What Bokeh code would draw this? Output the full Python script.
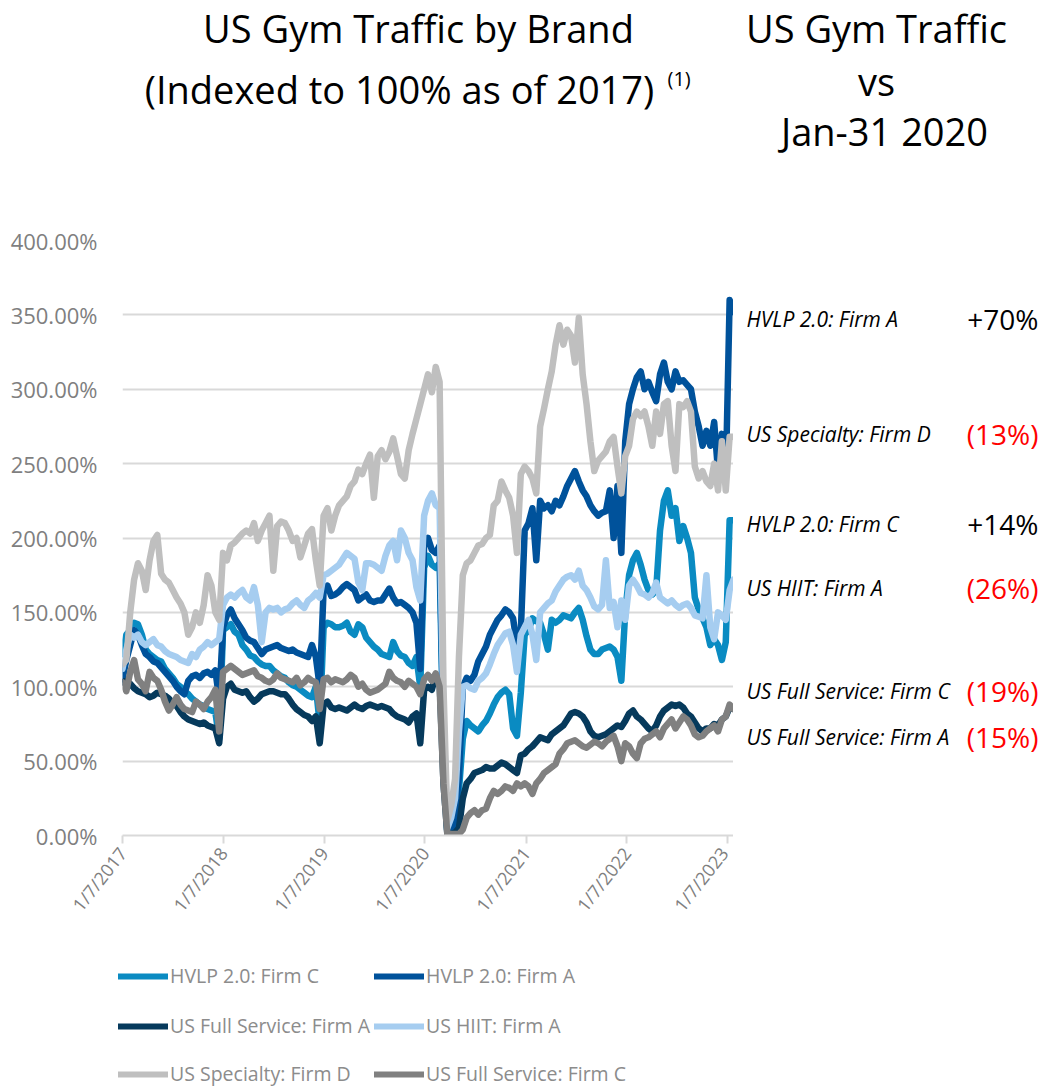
import math
import pandas as pd
from bokeh.plotting import figure
from bokeh.layouts import column, row
from bokeh.models import (Range1d, FixedTicker, PrintfTickFormatter, Label,
                          Legend, LegendItem, ColumnDataSource)
from bokeh.embed import file_html
from bokeh.resources import INLINE

# ---------------- data (bi-weekly readings, % indexed to 2017) ----------------
dates = pd.date_range("2017-01-07", "2023-01-28", freq="14D")   # 159 dates

hvlp_c = [122, 135, 138, 143, 142, 135, 125, 122, 120, 118, 117, 112, 109, 106, 102, 100, 97, 95, 92, 90, 88, 87, 85, 84, 83, 65,
          138, 140, 142, 137, 135, 128, 125, 121, 120, 117, 115, 114, 114, 111, 109, 107, 106, 103, 101, 100, 98, 96, 94, 93, 100, 75,
          140, 143, 142, 140, 140, 141, 143, 137, 135, 142, 140, 133, 130, 127, 125, 122, 121, 120, 130, 124, 121, 120, 116, 114, 120, 100,
          180, 188, 182, 180, 183, 60, 2, 3, 8, 30, 65, 77, 74, 72, 70, 74, 77, 82, 88, 93, 96, 98, 95, 72, 67, 96,
          135, 138, 146, 144, 143, 135, 125, 145, 143, 145, 148, 147, 146, 150, 153, 145, 134, 125, 122, 122, 125, 126, 127, 125, 120, 104,
          150, 175, 185, 190, 182, 172, 165, 162, 165, 205, 225, 232, 215, 220, 198, 208, 200, 190, 160, 152, 146, 140, 128, 132, 128, 118, 130, 212, 212]

hvlp_a = [105, 118, 128, 138, 135, 128, 122, 120, 117, 116, 113, 110, 107, 104, 100, 97, 95, 104, 107, 108, 106, 109, 110, 108, 111, 92,
          140, 148, 152, 146, 142, 138, 133, 131, 130, 126, 122, 125, 126, 127, 128, 126, 125, 124, 125, 123, 122, 121, 120, 128, 120, 100,
          165, 168, 161, 162, 164, 167, 169, 167, 165, 158, 160, 162, 158, 157, 158, 158, 162, 166, 160, 156, 157, 155, 153, 150, 143, 112,
          195, 200, 192, 190, 195, 70, 2, 3, 10, 40, 100, 106, 104, 108, 117, 122, 127, 135, 140, 145, 148, 152, 150, 146, 128, 137,
          205, 210, 220, 185, 225, 220, 222, 218, 225, 222, 228, 235, 240, 245, 238, 232, 228, 222, 218, 215, 217, 218, 232, 200, 235, 190,
          265, 290, 300, 308, 312, 300, 305, 298, 292, 310, 318, 305, 300, 312, 305, 306, 303, 300, 285, 275, 262, 272, 262, 278, 245, 270, 240, 360, 352]

fs_a = [103, 104, 102, 99, 97, 96, 95, 93, 94, 96, 95, 94, 92, 89, 87, 83, 80, 78, 77, 76, 75, 76, 74, 73, 72, 62,
        92, 100, 102, 98, 97, 96, 97, 93, 90, 92, 95, 96, 97, 97, 96, 95, 95, 92, 88, 85, 83, 81, 80, 77, 80, 62,
        88, 90, 86, 85, 86, 85, 84, 86, 88, 86, 85, 87, 88, 87, 86, 87, 86, 85, 82, 80, 79, 78, 76, 80, 82, 62,
        98, 100, 98, 108, 104, 35, 1, 1, 2, 5, 25, 35, 38, 42, 43, 44, 46, 45, 45, 47, 49, 48, 46, 44, 42, 54,
        55, 58, 60, 63, 66, 65, 64, 68, 70, 72, 74, 78, 82, 83, 82, 80, 76, 70, 67, 66, 67, 68, 70, 72, 74, 73,
        77, 82, 84, 80, 78, 75, 72, 70, 74, 80, 84, 86, 88, 87, 88, 86, 82, 80, 76, 72, 70, 72, 72, 75, 74, 78, 80, 86, 85]

hiit_a = [112, 125, 135, 133, 135, 130, 128, 130, 132, 128, 127, 124, 122, 121, 120, 118, 117, 116, 122, 120, 125, 127, 130, 128, 130, 132,
          155, 160, 162, 160, 163, 165, 160, 158, 167, 155, 130, 150, 153, 152, 153, 150, 152, 153, 156, 158, 155, 153, 158, 160, 163, 160,
          175, 176, 178, 180, 182, 186, 190, 188, 186, 170, 165, 183, 183, 182, 180, 178, 188, 195, 198, 185, 205, 200, 190, 185, 167, 158,
          215, 225, 230, 222, 220, 80, 5, 12, 25, 70, 100, 101, 99, 98, 104, 106, 109, 115, 122, 128, 132, 136, 137, 128, 110, 135,
          140, 145, 135, 118, 150, 153, 156, 158, 164, 168, 172, 174, 175, 172, 178, 168, 165, 160, 154, 152, 155, 185, 153, 157, 140, 158,
          145, 168, 172, 168, 163, 162, 160, 163, 170, 160, 158, 156, 158, 155, 153, 155, 156, 153, 148, 147, 146, 175, 140, 132, 150, 148, 145, 165, 172]

spec_d = [115, 118, 150, 172, 183, 178, 165, 185, 198, 202, 176, 172, 170, 165, 160, 156, 150, 135, 140, 150, 143, 155, 175, 168, 150, 145,
          190, 185, 195, 197, 200, 203, 205, 203, 210, 198, 205, 210, 215, 178, 208, 211, 210, 205, 198, 200, 187, 195, 203, 206, 185, 168,
          215, 220, 205, 215, 222, 225, 228, 235, 238, 246, 243, 250, 256, 227, 255, 259, 253, 258, 267, 255, 243, 240, 259, 270, 280, 290,
          300, 310, 298, 315, 305, 100, 10, 20, 38, 120, 175, 183, 185, 190, 195, 196, 200, 202, 222, 225, 238, 232, 227, 215, 190, 243,
          248, 245, 240, 230, 275, 287, 300, 312, 330, 343, 330, 340, 336, 318, 348, 310, 290, 265, 245, 252, 255, 258, 265, 268, 248, 230,
          255, 262, 280, 285, 282, 285, 275, 262, 285, 270, 290, 292, 262, 245, 290, 288, 292, 285, 248, 240, 245, 238, 235, 250, 232, 265, 232, 268, 268]

fs_c = [103, 97, 110, 118, 105, 102, 97, 110, 106, 104, 98, 90, 84, 88, 93, 88, 85, 84, 83, 90, 88, 85, 90, 93, 98, 70,
        110, 112, 114, 112, 110, 108, 109, 110, 111, 107, 106, 104, 103, 105, 109, 106, 105, 104, 103, 106, 101, 103, 106, 104, 103, 85,
        105, 106, 103, 105, 104, 103, 105, 108, 106, 100, 102, 98, 96, 97, 98, 100, 102, 110, 106, 104, 103, 100, 104, 102, 100, 95,
        105, 108, 104, 109, 100, 35, 1, 1, 1, 1, 4, 12, 15, 17, 14, 17, 18, 25, 30, 28, 30, 33, 32, 30, 35, 33,
        35, 33, 28, 35, 38, 42, 44, 46, 48, 55, 58, 62, 63, 64, 62, 60, 59, 61, 63, 62, 60, 63, 65, 67, 60, 50,
        62, 60, 55, 52, 62, 65, 66, 68, 70, 66, 72, 75, 78, 72, 76, 80, 78, 74, 68, 66, 67, 70, 72, 74, 70, 78, 80, 88, 85]

series_names = ["HVLP 2.0: Firm C", "HVLP 2.0: Firm A", "US Full Service: Firm A",
                "US HIIT: Firm A", "US Specialty: Firm D", "US Full Service: Firm C"]
series_values = [hvlp_c, hvlp_a, fs_a, hiit_a, spec_d, fs_c]
series_colors = ["#0a8bc2", "#00529b", "#063a5c", "#a6cdf0", "#bfbfbf", "#808080"]

tick_dates = ["2017-01-07", "2018-01-07", "2019-01-07", "2020-01-07",
              "2021-01-07", "2022-01-07", "2023-01-07"]
tick_labels = ["1/7/2017", "1/7/2018", "1/7/2019", "1/7/2020",
               "1/7/2021", "1/7/2022", "1/7/2023"]
y_ticks = [0, 50, 100, 150, 200, 250, 300, 350, 400]

ann_labels = ["HVLP 2.0: Firm A", "US Specialty: Firm D", "HVLP 2.0: Firm C",
              "US HIIT: Firm A", "US Full Service: Firm C", "US Full Service: Firm A"]
ann_values = ["+70%", "(13%)", "+14%", "(26%)", "(19%)", "(15%)"]
ann_colors = ["#000000", "#ff0000", "#000000", "#ff0000", "#ff0000", "#ff0000"]

for v in series_values:
    assert len(v) == len(dates), (len(v), len(dates))

FONT = "Open Sans"
W, H = 1048, 1088
TOP_H = 200          # title strip height
MAIN_W = 733         # main chart width (frame right edge)
MAIN_H = 745         # main chart height (page y 200..945)
LEG_H = H - TOP_H - MAIN_H
B_TOP, B_BOT = 40, 110   # main chart borders -> frame at page y 240..835


def text_fig(width, height, x0, y0, y1, btop=0, bbot=0):
    """Blank figure whose frame data coordinates equal page pixel coordinates."""
    f = figure(width=width, height=height, output_backend="svg", toolbar_location=None,
               x_range=Range1d(x0, x0 + width), y_range=Range1d(y1, y0),
               x_axis_type=None, y_axis_type=None,
               min_border=0, min_border_left=0, min_border_right=0,
               min_border_top=btop, min_border_bottom=bbot)
    f.outline_line_color = None
    f.grid.visible = False
    return f


def add_text(f, text, px, py, size, align="left", color="#000000", style="normal"):
    f.add_layout(Label(x=px, y=py, text=text, text_font=FONT, text_font_size=f"{size}px",
                       text_align=align, text_baseline="middle",
                       text_color=color, text_font_style=style))


# ---------------- title strip ----------------
top = text_fig(W, TOP_H, 0, 0, TOP_H)
add_text(top, "US Gym Traffic by Brand", 418, 27, 38, "center")
add_text(top, "(Indexed to 100% as of 2017)", 399, 88, 38, "center")
add_text(top, "(1)", 667, 78, 20, "left")
add_text(top, "US Gym Traffic", 876, 27, 38, "center")
add_text(top, "vs", 876, 80, 38, "center")
add_text(top, "Jan-31 2020", 884, 130, 38, "center")

# ---------------- main chart ----------------
x_ms = [d.value // 10**6 for d in dates]
tick_ms = [pd.Timestamp(t).value // 10**6 for t in tick_dates]

p = figure(width=MAIN_W, height=MAIN_H, output_backend="svg", toolbar_location=None,
           x_range=Range1d(x_ms[0], x_ms[-1]), y_range=Range1d(0, 400),
           min_border_left=122, min_border_right=0, min_border_top=B_TOP,
           min_border_bottom=B_BOT)
p.outline_line_color = None
p.xgrid.visible = False
p.ygrid.grid_line_color = "#d9d9d9"
p.ygrid.grid_line_width = 2

ya = p.yaxis[0]
ya.ticker = FixedTicker(ticks=y_ticks)
ya.formatter = PrintfTickFormatter(format="%.2f%%")
ya.axis_line_color = None
ya.major_tick_line_color = None
ya.major_tick_in = 0
ya.major_tick_out = 0
ya.minor_tick_line_color = None
ya.major_label_standoff = 25
ya.major_label_text_font = FONT
ya.major_label_text_font_size = "22px"
ya.major_label_text_color = "#7f7f7f"

xa = p.xaxis[0]
xa.ticker = FixedTicker(ticks=tick_ms)
xa.major_label_overrides = {t: l for t, l in zip(tick_ms, tick_labels)}
xa.axis_line_color = "#d9d9d9"
xa.axis_line_width = 2
xa.major_tick_line_color = "#d9d9d9"
xa.major_tick_line_width = 2
xa.major_tick_in = 0
xa.major_tick_out = 8
xa.minor_tick_line_color = None
xa.major_label_orientation = math.radians(52)
xa.major_label_standoff = 6
xa.major_label_text_font = FONT
xa.major_label_text_font_size = "18px"
xa.major_label_text_color = "#7f7f7f"

for name, vals, col in zip(series_names, series_values, series_colors):
    src = ColumnDataSource(dict(x=x_ms, y=vals))
    p.line("x", "y", source=src, line_color=col, line_width=6.5,
           line_join="round", line_cap="round")

# ---------------- right-hand annotations ----------------
right = text_fig(W - MAIN_W, MAIN_H, MAIN_W, TOP_H + B_TOP, TOP_H + MAIN_H - B_BOT,
                 btop=B_TOP, bbot=B_BOT)
ann_y = [318, 433, 523, 587, 690, 736]
for lab, val, col, yy in zip(ann_labels, ann_values, ann_colors, ann_y):
    add_text(right, lab, 746, yy, 21, "left", "#000000", "italic")
    add_text(right, val, 1038, yy, 28, "right", col)

# ---------------- legend strip ----------------
leg_fig = text_fig(W, LEG_H, 0, TOP_H + MAIN_H, H)
leg_renderers = []
for name, vals, col in zip(series_names, series_values, series_colors):
    # same series, lying far outside this strip's range (invisible); gives legend swatches
    src = ColumnDataSource(dict(x=x_ms, y=vals))
    leg_renderers.append(leg_fig.line("x", "y", source=src, line_color=col, line_width=6,
                                      line_cap="round"))
row_centers = [975, 1025, 1073]
for r_i, cy in enumerate(row_centers):
    items = [LegendItem(label=series_names[2 * r_i + c],
                        renderers=[leg_renderers[2 * r_i + c]]) for c in range(2)]
    bottom_from_frame = (H - cy) - 14
    leg = Legend(items=items, orientation="horizontal",
                 location=(118, bottom_from_frame),
                 glyph_width=50, glyph_height=20, label_width=202, label_height=20,
                 label_standoff=2, spacing=2, padding=0, margin=0,
                 border_line_color=None, background_fill_alpha=0,
                 label_text_font=FONT, label_text_font_size="19.5px",
                 label_text_color="#8c8c8c")
    leg_fig.add_layout(leg)

layout = column(top, row(p, right), leg_fig)
open("out.html", "w").write(file_html(layout, INLINE))
